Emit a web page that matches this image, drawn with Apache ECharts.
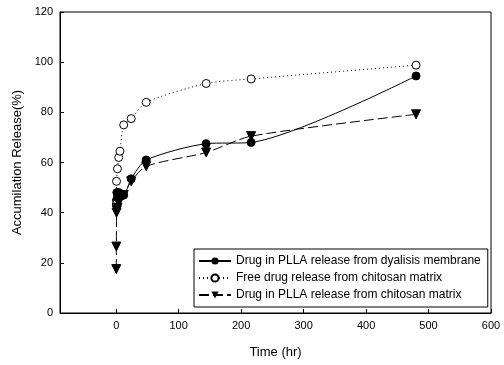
<!DOCTYPE html>
<html>
<head>
<meta charset="utf-8">
<script src="https://cdn.jsdelivr.net/npm/echarts@6/dist/echarts.min.js"></script>
<style>html,body{margin:0;padding:0;background:#fff;}#c{width:504px;height:365px;}</style>
</head>
<body>
<div id="c"></div>
<script>
var xTicks = [0, 100, 200, 300, 400, 500, 600];
var s1Name = 'Drug in PLLA release from dyalisis membrane';
var s1Time = [0.5, 1, 2, 4, 8, 12, 24, 48, 144, 216, 480];
var s1Val  = [45, 48, 47, 48, 47.5, 47, 53.5, 61, 67.5, 68, 94.5];
var s2Name = 'Free drug release from chitosan matrix';
var s2Time = [0.25, 0.5, 2, 4, 6, 12, 24, 48, 144, 216, 480];
var s2Val  = [43.5, 52.5, 57.5, 62, 64.5, 75, 77.5, 84, 91.5, 93.3, 98.8];
var s3Name = 'Drug in PLLA release from chitosan matrix';
var s3Time = [0.1, 0.25, 0.5, 1, 2, 4, 12, 24, 48, 144, 216, 480];
var s3Val  = [17.5, 26.5, 40, 41, 42, 44, 47, 52.5, 58.5, 64, 70.5, 79.2];

function pairs(t, v) { return t.map(function (x, i) { return [x, v[i]]; }); }
var font = 'Liberation Sans, Arial, sans-serif';
var chart = echarts.init(document.getElementById('c'), null, {renderer: 'canvas'});
chart.setOption({
  animation: false,
  backgroundColor: '#fff',
  grid: {left: 60, right: 13, top: 12, bottom: 52, show: true, borderColor: '#000', borderWidth: 1, backgroundColor: 'transparent'},
  xAxis: {
    type: 'value', min: -90, max: 600,
    name: 'Time (hr)', nameLocation: 'middle', nameGap: 33,
    nameTextStyle: {fontFamily: font, fontSize: 13, color: '#000'},
    axisLine: {onZero: false, lineStyle: {color: '#000', width: 1}},
    axisTick: {inside: true, length: 4, lineStyle: {color: '#000'}, customValues: xTicks},
    axisLabel: {fontFamily: font, fontSize: 11, color: '#000', margin: 7, customValues: xTicks},
    splitLine: {show: false}
  },
  yAxis: {
    type: 'value', min: 0, max: 120, interval: 20,
    name: 'Accumilation Release(%)', nameLocation: 'middle', nameGap: 34,
    nameTextStyle: {fontFamily: font, fontSize: 13, color: '#000'},
    axisLine: {show: true, onZero: false, lineStyle: {color: '#000', width: 1}},
    axisTick: {show: true, inside: true, length: 4, lineStyle: {color: '#000'}},
    axisLabel: {fontFamily: font, fontSize: 11, color: '#000', margin: 7},
    splitLine: {show: false}
  },
  legend: {
    orient: 'vertical', left: 194, top: 249,
    padding: [6, 7, 6, 4], itemGap: 5, itemWidth: 32, itemHeight: 9,
    borderColor: '#000', borderWidth: 1, backgroundColor: '#fff',
    textStyle: {fontFamily: font, fontSize: 12, color: '#000'},
    data: [s1Name, s2Name, s3Name]
  },
  series: [
    {name: s1Name, type: 'line', data: pairs(s1Time, s1Val), smooth: 0.25,
     symbol: 'circle', symbolSize: 8, color: '#000',
     itemStyle: {color: '#000', borderColor: '#000'},
     lineStyle: {color: '#000', width: 1, type: 'solid'}},
    {name: s2Name, type: 'line', data: pairs(s2Time, s2Val), smooth: 0.25,
     symbol: 'circle', symbolSize: 8, color: '#000',
     itemStyle: {color: '#fff', borderColor: '#000', borderWidth: 1},
     lineStyle: {color: '#000', width: 1, type: [1, 3]}},
    {name: s3Name, type: 'line', data: pairs(s3Time, s3Val), smooth: 0.25,
     symbol: 'triangle', symbolRotate: 180, symbolSize: 9, color: '#000',
     itemStyle: {color: '#000', borderColor: '#000'},
     lineStyle: {color: '#000', width: 1, type: [10, 4]}}
  ]
});
</script>
</body>
</html>
